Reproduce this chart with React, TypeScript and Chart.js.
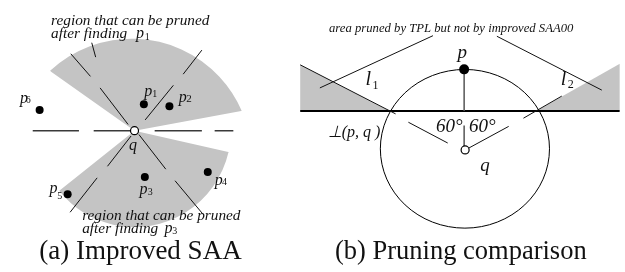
import React, { useEffect, useRef } from "react";
import { Chart, registerables } from "chart.js";

Chart.register(...registerables);

type P = { x: number; y: number };

const W = 625;
const H = 272;
const GRAY = "#c4c4c4";
const SERIF = "'Liberation Serif', 'Times New Roman', serif";

// ---------------- left panel (a) ----------------
const qLeft: P[] = [{ x: 131.5, y: 130.5 }];
// p6, p1, p2, p3, p4, p5
const leftPoints: P[] = [
  { x: 35, y: 109 },
  { x: 141, y: 103 },
  { x: 167, y: 105 },
  { x: 142, y: 178.5 },
  { x: 206, y: 173.5 },
  { x: 63.5, y: 196.5 },
];
const upperSector = { apex: { x: 131.5, y: 130.5 }, center: { x: 128.7, y: 159.3 }, radius: 121.8, from: { x: 46.7, y: 69.3 }, to: { x: 240, y: 110 } };
const lowerSector = { apex: { x: 131.5, y: 130.5 }, center: { x: 131.5, y: 130.5 }, radius: 98, from: { x: 228, y: 153 }, to: { x: 55, y: 193 } };
const leftSegments: number[][] = [
  [88, 39, 92, 54],
  [66.7, 50.5, 86.7, 74],
  [96.5, 86, 125, 124],
  [200, 46.7, 181, 71.7],
  [171, 83.3, 142.3, 119.3],
  [128, 136, 104, 167.5],
  [93.5, 179.5, 66, 215.3],
  [136, 134.5, 163.3, 170.5],
  [172.7, 182.5, 200.5, 216.5],
];
const dashSegments: number[][] = [
  [28, 130.5, 75, 130.5],
  [90, 130.5, 128, 130.5],
  [152, 130.5, 200, 130.5],
  [213, 130.5, 232, 130.5],
];

// ---------------- right panel (b) ----------------
const qRight: P[] = [{ x: 467.7, y: 150.5 }];
const pRight: P[] = [{ x: 466.7, y: 66.7 }];
const bigCircle = { x: 467.5, y: 149.3, rx: 86, ry: 82.5 };
const leftTriangle: P[] = [{ x: 300, y: 62 }, { x: 300, y: 110 }, { x: 391, y: 110 }, { x: 300, y: 62 }];
const rightTriangle: P[] = [{ x: 540, y: 110 }, { x: 625, y: 110 }, { x: 625, y: 61 }, { x: 540, y: 110 }];
const rightSegments: number[][] = [
  [435, 31.7, 320, 86],
  [500, 32.3, 606.7, 88.3],
  [300, 62, 397, 113],
  [527, 117.5, 566, 94.5],
  [410, 121.7, 450, 143.3],
  [471.5, 148.5, 512, 126],
];
const axisSegment: number[] = [300, 110, 625, 110];
const pSegments: number[][] = [
  [466.7, 66.7, 466.7, 110],
  [466.7, 125, 466.7, 146.5],
];

// ---------------- texts ----------------
// [text, x, y, size, italic, align]
const labels: [string, number, number, number, boolean, CanvasTextAlign][] = [
  ["region that can be pruned", 46.7, 20.7, 15.3, true, "left"],
  ["after finding", 46.7, 34.3, 15.3, true, "left"],
  ["p", 133, 34.3, 16, true, "left"],
  ["1", 142, 36, 10, false, "left"],
  ["p", 141.5, 94, 16, true, "left"],
  ["1", 149.5, 95, 10, false, "left"],
  ["p", 176.5, 100.5, 16, true, "left"],
  ["2", 184, 101, 11, false, "left"],
  ["p", 15, 102, 16, true, "left"],
  ["6", 21, 102, 10, false, "left"],
  ["q", 126, 151, 16, true, "left"],
  ["p", 136.5, 196.5, 16, true, "left"],
  ["3", 145, 197, 10, false, "left"],
  ["p", 213, 186.5, 16, true, "left"],
  ["4", 220.5, 187, 10, false, "left"],
  ["p", 45, 195, 16, true, "left"],
  ["5", 53, 201, 10, false, "left"],
  ["region that can be pruned", 78.3, 223, 15.3, true, "left"],
  ["after finding", 78.3, 237, 15.3, true, "left"],
  ["p", 162, 237, 16, true, "left"],
  ["3", 170, 238, 10, false, "left"],
  ["(a) Improved SAA", 137.5, 264, 27, false, "center"],
  ["area pruned by TPL but not by improved SAA00", 453.5, 28, 12.7, true, "center"],
  ["p", 460, 55, 19, true, "left"],
  ["l", 366.5, 83.3, 20, true, "left"],
  ["1", 373.5, 87, 12, false, "left"],
  ["l", 565, 83.3, 20, true, "left"],
  ["2", 572, 86, 12, false, "left"],
  ["\u22A5(p, q )", 328, 137, 16, true, "left"],
  ["60\u00B0", 438, 131.5, 19, true, "left"],
  ["60\u00B0", 471.7, 131.5, 19, true, "left"],
  ["q", 483, 172, 19, true, "left"],
  ["(b) Pruning comparison", 463.3, 264, 26.5, false, "center"],
];

function seg(s: number[]): P[] {
  return [{ x: s[0], y: s[1] }, { x: s[2], y: s[3] }];
}

function lineDs(data: P[], color: string, width: number, order: number) {
  return {
    data,
    showLine: true,
    borderColor: color,
    borderWidth: width,
    pointRadius: 0,
    fill: false,
    order,
  };
}

const shapesPlugin = {
  id: "shapes",
  beforeDatasetsDraw(chart: any) {
    const { ctx } = chart;
    const xs = chart.scales.x;
    const ys = chart.scales.y;
    const px = (v: number) => xs.getPixelForValue(v);
    const py = (v: number) => ys.getPixelForValue(v);
    ctx.save();
    ctx.fillStyle = GRAY;
    for (const s of [upperSector, lowerSector]) {
      const cx = px(s.center.x);
      const cy = py(s.center.y);
      const r = px(s.center.x + s.radius) - cx;
      const a0 = Math.atan2(py(s.from.y) - cy, px(s.from.x) - cx);
      const a1 = Math.atan2(py(s.to.y) - cy, px(s.to.x) - cx);
      ctx.beginPath();
      ctx.moveTo(px(s.apex.x), py(s.apex.y));
      ctx.lineTo(px(s.from.x), py(s.from.y));
      ctx.arc(cx, cy, r, a0, a1, false);
      ctx.lineTo(px(s.to.x), py(s.to.y));
      ctx.closePath();
      ctx.fill();
    }
    // big circle
    ctx.strokeStyle = "#000";
    ctx.lineWidth = 1;
    ctx.beginPath();
    const ecx = px(bigCircle.x);
    const ecy = py(bigCircle.y);
    ctx.ellipse(ecx, ecy, px(bigCircle.x + bigCircle.rx) - ecx, py(bigCircle.y + bigCircle.ry) - ecy, 0, 0, Math.PI * 2);
    ctx.stroke();
    ctx.restore();
  },
  afterDatasetsDraw(chart: any) {
    const { ctx } = chart;
    const xs = chart.scales.x;
    const ys = chart.scales.y;
    ctx.save();
    ctx.fillStyle = "#111";
    ctx.textBaseline = "alphabetic";
    for (const [t, x, y, size, italic, align] of labels) {
      ctx.font = `${italic ? "italic " : ""}${size}px ${SERIF}`;
      ctx.textAlign = align;
      ctx.fillText(t, xs.getPixelForValue(x), ys.getPixelForValue(y));
    }
    ctx.restore();
  },
};

export default function App() {
  const ref = useRef<HTMLCanvasElement | null>(null);
  useEffect(() => {
    if (!ref.current) return;
    const datasets: any[] = [];
    // fills
    for (const tri of [leftTriangle, rightTriangle]) {
      datasets.push({
        data: tri,
        showLine: true,
        borderWidth: 0,
        borderColor: "rgba(0,0,0,0)",
        backgroundColor: GRAY,
        pointRadius: 0,
        fill: "shape",
        order: 5,
      });
    }
    for (const s of dashSegments) datasets.push(lineDs(seg(s), "#3a3a3a", 1.6, 3));
    for (const s of leftSegments) datasets.push(lineDs(seg(s), "#111", 1, 3));
    for (const s of rightSegments) datasets.push(lineDs(seg(s), "#111", 1, 3));
    for (const s of pSegments) datasets.push(lineDs(seg(s), "#555", 1.5, 3));
    datasets.push(lineDs(seg(axisSegment), "#000", 2, 3));
    datasets.push({ data: leftPoints, showLine: false, pointRadius: 4, pointBackgroundColor: "#000", pointBorderColor: "#000", pointBorderWidth: 0, order: 1 });
    datasets.push({ data: pRight, showLine: false, pointRadius: 5, pointBackgroundColor: "#000", pointBorderColor: "#000", pointBorderWidth: 0, order: 1 });
    datasets.push({ data: [...qLeft, ...qRight], showLine: false, pointRadius: 4, pointBackgroundColor: "#fff", pointBorderColor: "#000", pointBorderWidth: 1.2, order: 0 });

    const chart = new Chart(ref.current, {
      type: "scatter",
      data: { datasets },
      options: {
        animation: false,
        responsive: false,
        devicePixelRatio: 1,
        layout: { padding: 0 },
        scales: {
          x: { type: "linear", min: 0, max: W, display: false },
          y: { type: "linear", min: 0, max: H, reverse: true, display: false },
        },
        plugins: { legend: { display: false }, tooltip: { enabled: false } },
        events: [],
      },
      plugins: [shapesPlugin],
    } as any);
    return () => chart.destroy();
  }, []);
  return (
    <div style={{ position: "fixed", left: 0, top: 0, width: W, height: H, background: "#fff" }}>
      <canvas ref={ref} width={W} height={H} style={{ width: W, height: H, display: "block" }} />
    </div>
  );
}
